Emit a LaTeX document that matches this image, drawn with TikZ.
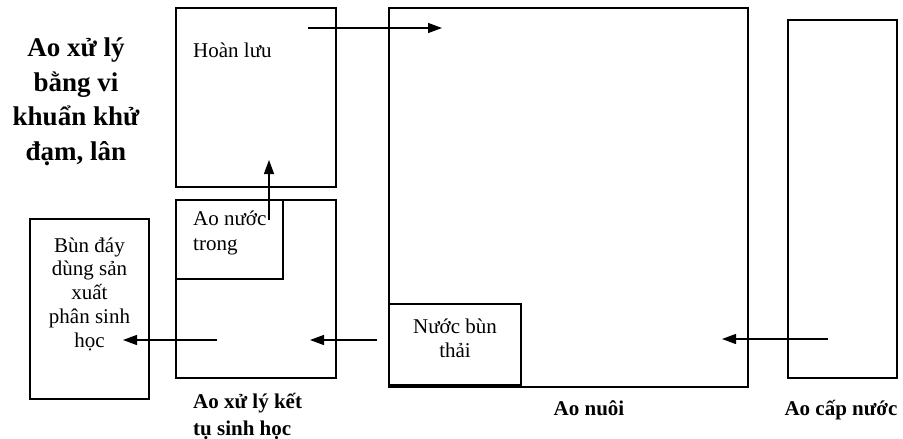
\documentclass[tikz,border=0pt]{standalone}
\usepackage{fontspec}
\setmainfont{Liberation Serif}
\usetikzlibrary{arrows.meta}
\begin{document}
\begin{tikzpicture}[x=1pt,y=-1pt,
  box/.style={draw,line width=1.3pt,inner sep=0pt},
  flow/.style={draw,line width=1.3pt,-{Triangle[length=14pt,width=10pt]}},
  lbl/.style={inner sep=0pt,font=\fontsize{21}{24}\selectfont},
  blbl/.style={inner sep=0pt,font=\fontsize{21}{27}\selectfont\bfseries},
  ttl/.style={inner sep=0pt,font=\fontsize{27}{34.5}\selectfont\bfseries,align=center}]
\useasboundingbox (0,0) rectangle (903,439);
% boxes
\node[box,minimum width=160pt,minimum height=179pt] (hl) at (256,97.5) {};
\node[box,minimum width=160pt,minimum height=178pt] (kt) at (256,289) {};
\node[box,minimum width=107pt,minimum height=79pt] (ant) at (229.5,239.5) {};
\node[box,minimum width=119pt,minimum height=180pt] (bun) at (89.5,309) {};
\node[box,minimum width=359pt,minimum height=379pt] (nuoi) at (568.5,197.5) {};
\node[box,minimum width=132pt,minimum height=81pt] (nbt) at (455,344.5) {};
\node[box,minimum width=109pt,minimum height=358pt] (cap) at (842.5,199) {};
% texts (multi-line nodes anchored at last baseline)
\node[ttl,anchor=base] (title) at (76,160) {Ao xử lý\\bằng vi\\khuẩn khử\\đạm, lân};
\node[lbl,anchor=base west] (thl) at (193,57) {Hoàn lưu};
\node[lbl,anchor=base west,align=left,font=\fontsize{21}{25}\selectfont] (tant) at (193,250) {Ao nước\\trong};
\node[lbl,anchor=base,align=center,font=\fontsize{21}{23.75}\selectfont] (tbun) at (89.5,347) {Bùn đáy\\dùng sản\\xuất\\phân sinh\\học};
\node[lbl,anchor=base,align=center] (tnbt) at (455,357) {Nước bùn\\thải};
\node[blbl,anchor=base west,align=left] (tkt) at (193,435) {Ao xử lý kết\\tụ sinh học};
\node[blbl,anchor=base] (tnuoi) at (589,415) {Ao nuôi};
\node[blbl,anchor=base] (tcap) at (841,415) {Ao cấp nước};
% arrow ends
\coordinate (a1s) at (308,28); \coordinate (a1e) at (442,28);
\coordinate (a2s) at (269,220); \coordinate (a2e) at (269,160);
\coordinate (a3s) at (217,340); \coordinate (a3e) at (123,340);
\coordinate (a4s) at (377,340); \coordinate (a4e) at (310,340);
\coordinate (a5s) at (828,339); \coordinate (a5e) at (722,339);
\draw[flow] (a1s) -- (a1e);
\draw[flow] (a2s) -- (a2e);
\draw[flow] (a3s) -- (a3e);
\draw[flow] (a4s) -- (a4e);
\draw[flow] (a5s) -- (a5e);
\end{tikzpicture}
\end{document}
